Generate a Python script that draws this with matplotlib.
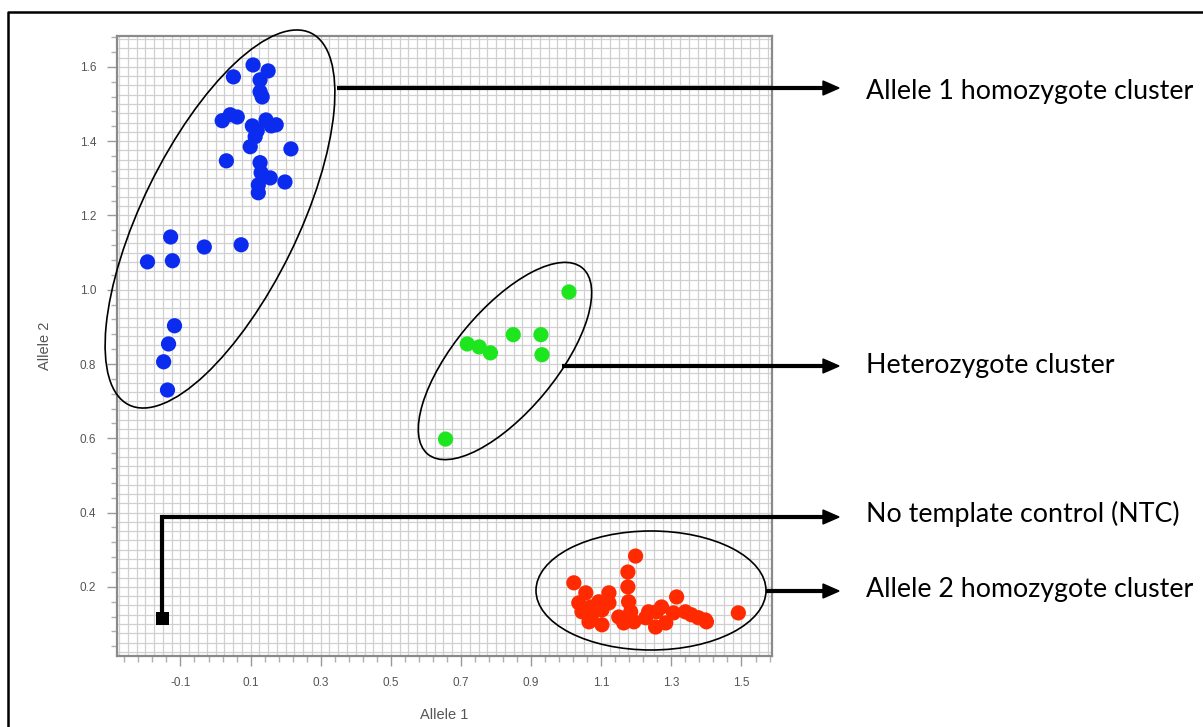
import numpy as np
import matplotlib
matplotlib.use("Agg")
import matplotlib.pyplot as plt
from matplotlib.patches import Ellipse, Polygon
from matplotlib.lines import Line2D
from matplotlib.transforms import IdentityTransform
from matplotlib.ticker import FixedLocator, MultipleLocator

# allele 1 homozygotes (blue)
blue_x = [0.107, 0.150, 0.051, 0.127, 0.127, 0.133, 0.019, 0.042, 0.062, 0.105,
          0.119, 0.144, 0.159, 0.173, 0.113, 0.099, 0.215, 0.031, 0.127, 0.130,
          0.156, 0.198, 0.122, 0.122, -0.128, -0.032, 0.073, -0.194, -0.123,
          -0.117, -0.134, -0.148, -0.137]
blue_y = [1.605, 1.589, 1.573, 1.565, 1.533, 1.519, 1.455, 1.471, 1.465, 1.441,
          1.428, 1.457, 1.441, 1.444, 1.412, 1.385, 1.379, 1.347, 1.342, 1.315,
          1.301, 1.290, 1.282, 1.261, 1.142, 1.115, 1.121, 1.075, 1.078,
          0.903, 0.854, 0.806, 0.730]

# heterozygotes (green)
green_x = [1.008, 0.718, 0.752, 0.784, 0.849, 0.928, 0.931, 0.656]
green_y = [0.994, 0.854, 0.846, 0.830, 0.879, 0.879, 0.825, 0.598]

# allele 2 homozygotes (red)
red_x = [1.198, 1.176, 1.176, 1.022, 1.056, 1.122, 1.315, 1.491, 1.036, 1.070,
         1.093, 1.122, 1.045, 1.073, 1.102, 1.065, 1.102, 1.178, 1.184, 1.164,
         1.193, 1.227, 1.258, 1.272, 1.255, 1.284, 1.306, 1.340, 1.357, 1.377,
         1.397, 1.400, 1.235, 1.150]
red_y = [0.283, 0.240, 0.200, 0.211, 0.184, 0.184, 0.173, 0.130, 0.157, 0.146,
         0.160, 0.157, 0.133, 0.125, 0.138, 0.106, 0.098, 0.160, 0.133, 0.103,
         0.106, 0.117, 0.133, 0.146, 0.092, 0.103, 0.130, 0.133, 0.125, 0.117,
         0.111, 0.106, 0.133, 0.119]

# no template control
ntc_x = [-0.151]
ntc_y = [0.114]

x_ticks = [-0.1, 0.1, 0.3, 0.5, 0.7, 0.9, 1.1, 1.3, 1.5]
y_ticks = [0.2, 0.4, 0.6, 0.8, 1.0, 1.2, 1.4, 1.6]

labels = ["Allele 1 homozygote cluster", "Heterozygote cluster",
          "No template control (NTC)", "Allele 2 homozygote cluster"]

W, H = 1203, 727
fig = plt.figure(figsize=(W / 100, H / 100), dpi=100)
ax = fig.add_axes([117 / W, (H - 656) / H, (772 - 117) / W, (656 - 36) / H])

ax.set_xlim(-0.281, 1.587)
ax.set_ylim(0.014, 1.683)

# fine background grid
for gx in np.arange(-0.275, 1.59, 0.025):
    ax.axvline(gx, color="#d0d0d0", lw=0.9, zorder=0)
for gy in np.arange(0.025, 1.69, 0.025):
    ax.axhline(gy, color="#d0d0d0", lw=0.9, zorder=0)

ax.scatter(blue_x, blue_y, s=120, color="#0b2bef", edgecolors="none", zorder=3)
ax.scatter(green_x, green_y, s=120, color="#1ee61e", edgecolors="none", zorder=3)
ax.scatter(red_x, red_y, s=120, color="#ff2a00", edgecolors="none", zorder=3)
ax.scatter(ntc_x, ntc_y, s=85, marker="s", color="black", edgecolors="none", zorder=4)

ax.xaxis.set_major_locator(FixedLocator(x_ticks))
ax.xaxis.set_minor_locator(FixedLocator(np.arange(-0.26, 1.59, 0.04)))
ax.yaxis.set_major_locator(FixedLocator(y_ticks))
ax.yaxis.set_minor_locator(MultipleLocator(0.04))
ax.set_xticklabels([f"{t:.1f}" for t in x_ticks])
ax.set_yticklabels([f"{t:.1f}" for t in y_ticks])
ax.tick_params(which="major", length=7, width=1, color="#9a9a9a", labelsize=8.5,
               labelcolor="#555555", pad=8)
ax.tick_params(which="minor", length=4, width=1, color="#b0b0b0")
for lab in ax.get_xticklabels() + ax.get_yticklabels():
    lab.set_family("Liberation Sans")
for sp in ax.spines.values():
    sp.set_color("#8a8a8a")
    sp.set_linewidth(1.6)

ax.set_xlabel("Allele 1", fontsize=10.5, color="#555555", family="Liberation Sans",
              labelpad=14)
ax.set_ylabel("Allele 2", fontsize=10.5, color="#555555", family="Liberation Sans",
              labelpad=20)

ident = IdentityTransform()


def pt(x, y):
    return (x, H - y)


# ellipses around clusters (pixel space)
for cx, cy, w, h, ang in [(220, 219, 414, 156, 63.9),
                          (505, 361, 242, 102, 50.3),
                          (651, 590.5, 230, 119, 0)]:
    fig.add_artist(Ellipse(pt(cx, cy), w, h, angle=ang, transform=ident,
                           fill=False, edgecolor="black", lw=1.2, zorder=5))

# leader lines with arrowheads
tip = 839
paths = [[(337, 88), (825, 88)],
         [(562, 366), (825, 366)],
         [(162, 613), (162, 517), (825, 517)],
         [(766, 591), (825, 591)]]
text_y = [92, 366, 514, 590]
for path, ty, lab in zip(paths, text_y, labels):
    xs = [p[0] for p in path]
    ys = [H - p[1] for p in path]
    fig.add_artist(Line2D(xs, ys, color="black", lw=3, transform=ident,
                          solid_joinstyle="miter", solid_capstyle="butt", zorder=6))
    ly = path[-1][1]
    fig.add_artist(Polygon([pt(823, ly - 7), pt(tip, ly), pt(823, ly + 7)],
                           closed=True, color="black", transform=ident, zorder=6))
    fig.text(866 / W, 1 - ty / H, lab, fontsize=19.3, family="Lato",
             color="black", va="center", ha="left")

# outer frame (left and top edges)
fig.add_artist(Line2D([8, 8, W], [0, H - 12, H - 12], color="black", lw=1.8,
                      transform=ident, zorder=7))

fig.savefig("out.png", dpi=100)
